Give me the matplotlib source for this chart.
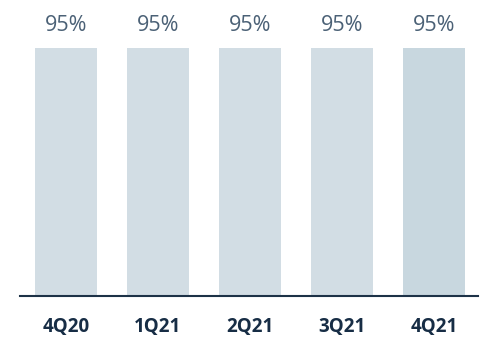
import matplotlib
matplotlib.use("Agg")
import matplotlib.pyplot as plt

quarters = ["4Q20", "1Q21", "2Q21", "3Q21", "4Q21"]
values = [95, 95, 95, 95, 95]
labels = ["95%", "95%", "95%", "95%", "95%"]
colors = ["#d2dde4", "#d2dde4", "#d2dde4", "#d2dde4", "#c8d7df"]

plt.rcParams['font.family'] = ['Open Sans', 'DejaVu Sans']

fig = plt.figure(figsize=(4.82, 3.40), dpi=100)
ax = fig.add_axes([20 / 482, 1 - 296 / 340, 458 / 482, 296 / 340])

x = list(range(len(quarters)))
bars = ax.bar(x, values, width=0.674, color=colors)
for xi, v, lab in zip(x, values, labels):
    ax.text(xi, v + 8.5, lab, ha='center', va='center', fontsize=15.5,
            fontweight='normal', color='#4b6176')

ax.set_xlim(-0.5, 4.48)
ax.set_ylim(0, 113.4)
ax.set_xticks(x)
ax.set_xticklabels(quarters, fontsize=13.5, fontweight='bold', color='#172d45')
ax.tick_params(axis='x', length=0, pad=15)
ax.set_yticks([])
for s in ['top', 'right', 'left']:
    ax.spines[s].set_visible(False)
ax.spines['bottom'].set_color('#1d3247')
ax.spines['bottom'].set_linewidth(1.5)

fig.savefig("out.png", dpi=100)
